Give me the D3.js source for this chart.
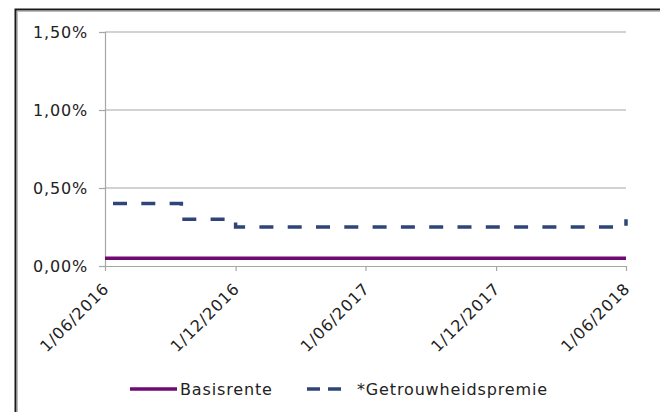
<!doctype html>
<html>
<head>
<title>Basisrente en getrouwheidspremie</title>
<script src="https://d3js.org/d3.v7.min.js"></script>
<style>
  body { margin: 0; background: #fff; }
  svg { display: block; }
  text { font-family: "DejaVu Sans", Verdana, sans-serif; font-size: 16px; letter-spacing: 0.85px; fill: #222; }
  .grid line { stroke: #a6a6a6; stroke-width: 1.2; }
  .axis path, .axis line { stroke: #a6a6a6; stroke-width: 1.2; fill: none; }
</style>
</head>
<body>
<script>
  // data
  var yTicks = [0, 0.005, 0.010, 0.015];
  var xTicks = ["2016-06-01", "2016-12-01", "2017-06-01", "2017-12-01", "2018-06-01"];

  var basisDates = ["2016-06-01", "2018-06-01"];
  var basisValues = [0.0005, 0.0005];

  var premieDates = ["2016-06-01", "2016-09-16", "2016-12-01", "2018-06-01"];
  var premieValues = [0.0040, 0.0030, 0.0025, 0.0030];

  var seriesNames = ["Basisrente", "*Getrouwheidspremie"];

  var parse = d3.timeParse("%Y-%m-%d");
  var fmtPct = function(v){ return d3.format(".2f")(v * 100).replace(".", ",") + "%"; };
  var fmtDate = d3.timeFormat("%-d/%m/%Y");

  var W = 660, H = 412;
  var margin = {left: 105, right: 34, top: 32, bottom: 146};

  var svg = d3.select("body").append("svg").attr("width", W).attr("height", H);

  // chart frame
  svg.append("rect").attr("x", 15.5).attr("y", 9.5).attr("width", 700).attr("height", 500)
    .attr("fill", "none").attr("stroke", "#1a1a1a").attr("stroke-width", 2);
  svg.append("rect").attr("x", 17.5).attr("y", 11.5).attr("width", 700).attr("height", 500)
    .attr("fill", "none").attr("stroke", "#bdbdbd").attr("stroke-width", 1);

  var x = d3.scaleTime()
    .domain([parse(xTicks[0]), parse(xTicks[xTicks.length - 1])])
    .range([margin.left, W - margin.right]);
  var y = d3.scaleLinear().domain([0, 0.015]).range([H - margin.bottom, margin.top]);

  // gridlines
  svg.append("g").attr("class", "grid")
    .selectAll("line").data(yTicks.slice(1)).enter().append("line")
    .attr("x1", margin.left).attr("x2", W - margin.right)
    .attr("y1", function(d){ return y(d); }).attr("y2", function(d){ return y(d); });

  var yAxis = d3.axisLeft(y).tickValues(yTicks).tickFormat(fmtPct).tickSize(6).tickPadding(11);
  var gy = svg.append("g").attr("class", "axis").attr("transform", "translate(" + margin.left + ",0)").call(yAxis);
  gy.selectAll("text").attr("dy", "0.35em");

  var xAxis = d3.axisBottom(x).tickValues(xTicks.map(parse)).tickFormat(fmtDate).tickSize(5).tickSizeOuter(0);
  var gx = svg.append("g").attr("class", "axis").attr("transform", "translate(0," + y(0) + ")").call(xAxis);
  gx.selectAll("text")
    .attr("text-anchor", "end")
    .attr("transform", "translate(-9,10) rotate(-45)")
    .attr("dx", 0).attr("dy", "0.7em");

  var line = d3.line()
    .x(function(d){ return x(d.date); })
    .y(function(d){ return y(d.value); })
    .curve(d3.curveStepAfter);

  var basis = basisDates.map(function(d, i){ return {date: parse(d), value: basisValues[i]}; });
  var premie = premieDates.map(function(d, i){ return {date: parse(d), value: premieValues[i]}; });

  svg.append("path").datum(premie).attr("d", line)
    .attr("fill", "none").attr("stroke", "#2f4579").attr("stroke-width", 3.5)
    .attr("stroke-dasharray", "14,14.3").attr("stroke-dashoffset", -8);

  svg.append("path").datum(basis).attr("d", line)
    .attr("fill", "none").attr("stroke", "#6f0a73").attr("stroke-width", 3.5);

  // legend
  var ly = 389;
  svg.append("line").attr("x1", 130).attr("x2", 177).attr("y1", ly).attr("y2", ly)
    .attr("stroke", "#6f0a73").attr("stroke-width", 3.5);
  svg.append("text").attr("x", 180).attr("y", ly).attr("dy", "0.35em").text(seriesNames[0]);
  svg.append("line").attr("x1", 307).attr("x2", 341).attr("y1", ly).attr("y2", ly)
    .attr("stroke", "#2f4579").attr("stroke-width", 3.5).attr("stroke-dasharray", "13,8");
  svg.append("text").attr("x", 357).attr("y", ly).attr("dy", "0.35em").text(seriesNames[1]);
</script>
</body>
</html>
